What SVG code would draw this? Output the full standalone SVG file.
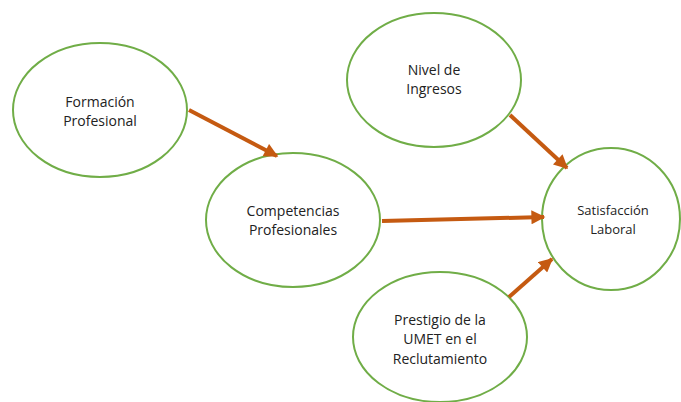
<svg xmlns="http://www.w3.org/2000/svg" width="681" height="402" viewBox="0 0 681 402">
<style>
.node ellipse{fill:#ffffff;stroke:#70ad47;stroke-width:2}
.node text{font-family:"Open Sans","Liberation Sans",sans-serif;font-size:14px;fill:#222;text-anchor:middle}
.conn line{stroke:#c55a11;stroke-width:4;marker-end:url(#ah)}
</style>
<defs>
<marker id="ah" viewBox="0 0 10 10" refX="9" refY="5" markerUnits="userSpaceOnUse" markerWidth="15" markerHeight="14" orient="auto">
<path d="M0,0 L10,5 L0,10 z" fill="#c55a11"/>
</marker>
</defs>
<rect width="681" height="402" fill="#ffffff"/>
<g id="formacion" class="node">
<ellipse cx="100" cy="110" rx="87" ry="67"/>
<text x="100" y="107">Formación</text>
<text x="100" y="126">Profesional</text>
</g>
<g id="competencias" class="node">
<ellipse cx="293" cy="220" rx="87" ry="67"/>
<text x="293" y="216">Competencias</text>
<text x="293" y="235">Profesionales</text>
</g>
<g id="ingresos" class="node">
<ellipse cx="434" cy="80" rx="87" ry="67"/>
<text x="434" y="75">Nivel de</text>
<text x="434" y="94">Ingresos</text>
</g>
<g id="satisfaccion" class="node">
<ellipse cx="611" cy="219" rx="69" ry="71"/>
<text x="613" y="215" style="font-size:13px">Satisfacción</text>
<text x="613" y="234" style="font-size:13px">Laboral</text>
</g>
<g id="prestigio" class="node">
<ellipse cx="440" cy="337" rx="87" ry="65"/>
<text x="440" y="325">Prestigio de la</text>
<text x="440" y="344">UMET en el</text>
<text x="440" y="364">Reclutamiento</text>
</g>
<g id="connectors" class="conn">
<line x1="189" y1="110" x2="277" y2="156"/>
<line x1="510" y1="115" x2="567" y2="168"/>
<line x1="382" y1="221" x2="544" y2="217"/>
<line x1="509" y1="297" x2="552" y2="259"/>
</g>
</svg>
